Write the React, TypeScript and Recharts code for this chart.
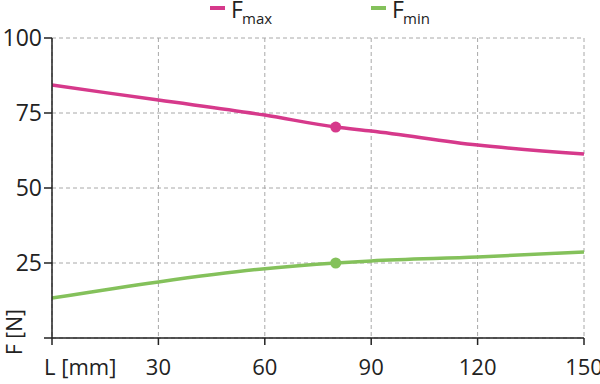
import React from 'react'
import { LineChart, Line, XAxis, YAxis, CartesianGrid } from 'recharts'

// L [mm] positions
const lengths = [0, 30, 60, 80, 90, 120, 150]
const fMax = [84.3, 79.3, 74.3, 70.3, 69.0, 64.3, 61.3]
const fMin = [13.3, 18.7, 23.1, 25.0, 25.7, 27.0, 28.7]
const markedLength = 80

const xTicks = [0, 30, 60, 90, 120, 150]
const yTicks = [0, 25, 50, 75, 100]

const PINK = '#d6398b'
const GREEN = '#84c15b'
const FONT = '"Open Sans", "DejaVu Sans", sans-serif'

const chartData = lengths.map((l, i) => ({ l, fMax: fMax[i], fMin: fMin[i] }))

const XTick = (props: any) => {
  const { x, y, payload } = props
  if (payload.value === 0) {
    return (
      <text x={x - 8} y={y} dy="0.71em" textAnchor="start" fontSize={22} fill="#222" fontFamily={FONT}>
        L [mm]
      </text>
    )
  }
  return (
    <text x={x} y={y} dy="0.71em" textAnchor="middle" fontSize={22} fill="#222" fontFamily={FONT}>
      {payload.value}
    </text>
  )
}

const YTick = (props: any) => {
  const { x, y, payload } = props
  if (payload.value === 0) {
    return (
      <text
        x={14}
        y={y - 6}
        transform={`rotate(-90 14 ${y - 6})`}
        textAnchor="middle"
        dominantBaseline="central"
        fontSize={21}
        fill="#222"
        fontFamily={FONT}
      >
        F [N]
      </text>
    )
  }
  return (
    <text x={x} y={y} dy="0.35em" textAnchor="end" fontSize={23} fill="#222" fontFamily={FONT}>
      {payload.value}
    </text>
  )
}

const markDot = (color: string) => (props: any) => {
  const { cx, cy, payload, index } = props
  if (payload.l !== markedLength) return <g key={index} />
  return <circle key={index} cx={cx} cy={cy} r={5.5} fill={color} stroke="none" />
}

const legendItems = [
  { name: 'max', color: PINK, left: 210 },
  { name: 'min', color: GREEN, left: 371 },
]

export default function App() {
  return (
    <div style={{ position: 'absolute', left: 0, top: 0, width: 600, height: 384, background: '#fff' }}>
      <LineChart width={600} height={384} data={chartData} margin={{ top: 38, right: 16, bottom: 0, left: 0 }}>
        <CartesianGrid stroke="#a8a8a8" strokeDasharray="4 3" strokeWidth={1} />
        <XAxis
          dataKey="l"
          type="number"
          domain={[0, 150]}
          ticks={xTicks}
          interval={0}
          height={46}
          tickSize={7}
          tickMargin={14}
          axisLine={{ stroke: '#222', strokeWidth: 1.5 }}
          tickLine={{ stroke: '#222', strokeWidth: 1.5 }}
          tick={<XTick />}
        />
        <YAxis
          type="number"
          domain={[0, 100]}
          ticks={yTicks}
          interval={0}
          width={52}
          tickSize={8}
          tickMargin={2}
          axisLine={{ stroke: '#222', strokeWidth: 1.5 }}
          tickLine={{ stroke: '#222', strokeWidth: 1.5 }}
          tick={<YTick />}
        />
        <Line
          type="monotone"
          dataKey="fMax"
          stroke={PINK}
          strokeWidth={3.5}
          dot={markDot(PINK)}
          activeDot={false}
          isAnimationActive={false}
        />
        <Line
          type="monotone"
          dataKey="fMin"
          stroke={GREEN}
          strokeWidth={3.5}
          dot={markDot(GREEN)}
          activeDot={false}
          isAnimationActive={false}
        />
      </LineChart>
      {legendItems.map((item) => (
        <div
          key={item.name}
          style={{ position: 'absolute', left: item.left, top: 0, height: 26, fontFamily: FONT, color: '#222' }}
        >
          <span style={{ position: 'absolute', left: 0, top: 6, width: 15, height: 3.5, background: item.color }} />
          <span style={{ position: 'absolute', left: 21, top: 0, fontSize: 23, lineHeight: '18px' }}>F</span>
          <span style={{ position: 'absolute', left: 32, top: 10, fontSize: 15, lineHeight: '16px' }}>{item.name}</span>
        </div>
      ))}
    </div>
  )
}
